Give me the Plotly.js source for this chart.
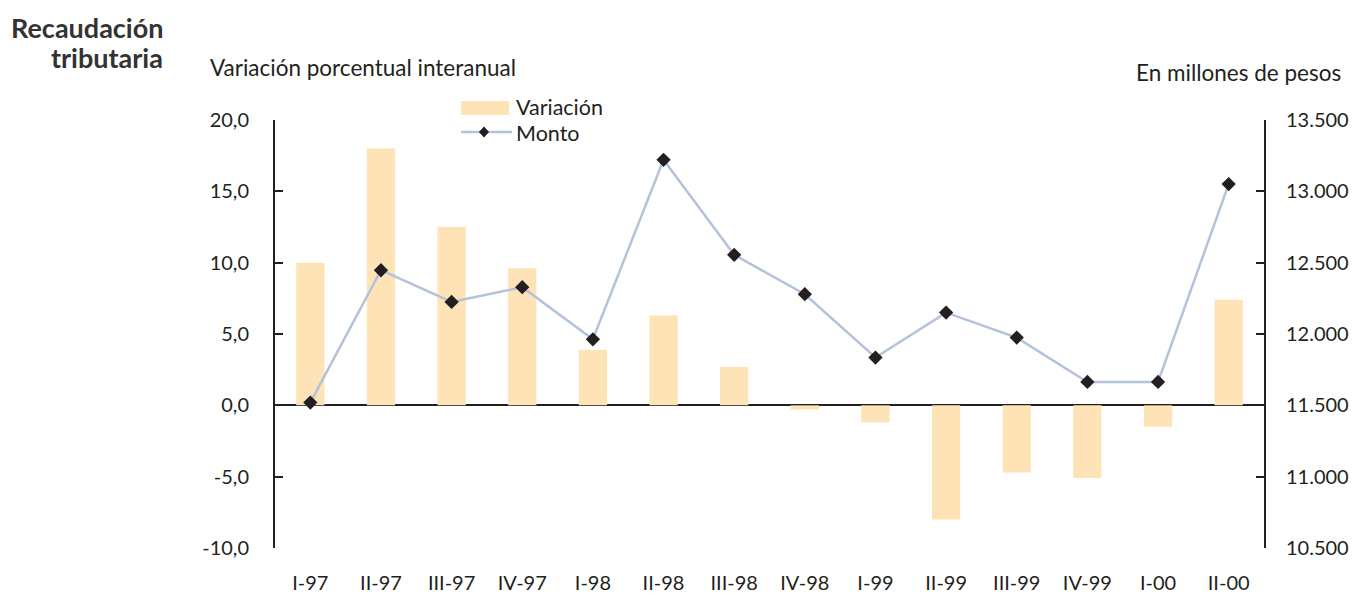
<!DOCTYPE html>
<html>
<head>
<meta charset="utf-8">
<script src="https://cdn.plot.ly/plotly-3.0.1.min.js"></script>
<style>
  html, body { margin: 0; padding: 0; background: #ffffff; }
  #chart { width: 1352px; height: 595px; }
</style>
</head>
<body>
<div id="chart"></div>
<script>
// Quarterly periods
const periods = ['I-97', 'II-97', 'III-97', 'IV-97', 'I-98', 'II-98', 'III-98', 'IV-98',
                 'I-99', 'II-99', 'III-99', 'IV-99', 'I-00', 'II-00'];

// Year-on-year percentage change (left axis)
const variacion = [10.0, 18.0, 12.5, 9.6, 3.9, 6.3, 2.7, -0.3, -1.2, -8.0, -4.7, -5.1, -1.5, 7.4];

// Amount collected, millions of pesos (right axis)
const monto = [11519, 12447, 12225, 12328, 11963, 13221, 12555, 12279, 11835, 12150, 11975, 11664, 11664, 13051];

// Axis ticks
const leftTicks = [-10, -5, 0, 5, 10, 15, 20];
const leftTickText = ['-10,0', '-5,0', '0,0', '5,0', '10,0', '15,0', '20,0'];
const rightTicks = [10500, 11000, 11500, 12000, 12500, 13000, 13500];
const rightTickText = ['10.500', '11.000', '11.500', '12.000', '12.500', '13.000', '13.500'];

const FONT = 'Lato, "Open Sans", sans-serif';
const INK = '#231f20';
const BAR = '#fee3b7';
const LINE = '#b3c3db';

const traces = [
  {
    type: 'bar',
    name: 'Variación',
    x: periods,
    y: variacion,
    marker: { color: BAR, line: { width: 0 } },
    yaxis: 'y'
  },
  {
    type: 'scatter',
    mode: 'lines+markers',
    name: 'Monto',
    x: periods,
    y: monto,
    yaxis: 'y2',
    line: { color: LINE, width: 2.5 },
    marker: { symbol: 'diamond', size: 11, color: INK, line: { width: 0 } }
  }
];

const axisFont = { family: FONT, size: 20, color: INK };

// Legend key drawn in paper coordinates above the plot
const legendShapes = [
  { type: 'rect', xref: 'paper', yref: 'paper', x0: 0.1881, x1: 0.2366, y0: 1.0117, y1: 1.0444,
    fillcolor: BAR, line: { width: 0 } },
  { type: 'line', xref: 'paper', yref: 'paper', x0: 0.1881, x1: 0.2396, y0: 0.972, y1: 0.972,
    line: { color: LINE, width: 2.5 } },
  { type: 'path', xref: 'paper', yref: 'paper',
    path: 'M 0.2113 0.9849 L 0.2164 0.972 L 0.2113 0.9591 L 0.2062 0.972 Z',
    fillcolor: INK, line: { width: 0 } }
];

const layout = {
  width: 1352,
  height: 595,
  margin: { l: 275, r: 88, t: 120, b: 47 },
  paper_bgcolor: '#ffffff',
  plot_bgcolor: '#ffffff',
  font: { family: FONT, size: 20, color: INK },
  bargap: 0.6,
  showlegend: false,
  xaxis: {
    type: 'category',
    range: [-0.5, 13.5],
    showgrid: false,
    showline: false,
    ticks: '',
    ticklabelstandoff: 21,
    tickfont: axisFont,
    fixedrange: true
  },
  yaxis: {
    range: [-10, 20],
    tickvals: leftTicks,
    ticktext: leftTickText,
    showgrid: false,
    zeroline: true,
    zerolinecolor: INK,
    zerolinewidth: 2,
    showline: true,
    linecolor: INK,
    linewidth: 2,
    ticks: 'inside',
    ticklen: 8,
    tickwidth: 2,
    tickcolor: INK,
    ticklabelstandoff: 20,
    tickfont: axisFont,
    fixedrange: true
  },
  yaxis2: {
    range: [10500, 13500],
    overlaying: 'y',
    side: 'right',
    tickvals: rightTicks,
    ticktext: rightTickText,
    showgrid: false,
    zeroline: false,
    showline: true,
    linecolor: INK,
    linewidth: 2,
    ticks: 'inside',
    ticklen: 8,
    tickwidth: 2,
    tickcolor: INK,
    ticklabelstandoff: 16,
    tickfont: axisFont,
    fixedrange: true
  },
  shapes: legendShapes,
  annotations: [
    {
      xref: 'paper', yref: 'paper', x: -0.111, y: 1.215,
      xanchor: 'right', yanchor: 'middle', align: 'right',
      text: '<b>Recaudación</b>',
      showarrow: false,
      font: { family: FONT, size: 27, color: '#333333' }
    },
    {
      xref: 'paper', yref: 'paper', x: -0.111, y: 1.145,
      xanchor: 'right', yanchor: 'middle', align: 'right',
      text: '<b>tributaria</b>',
      showarrow: false,
      font: { family: FONT, size: 27, color: '#333333' }
    },
    {
      xref: 'paper', yref: 'paper', x: -0.068, y: 1.122,
      xanchor: 'left', yanchor: 'middle',
      text: 'Variación porcentual interanual',
      showarrow: false,
      font: { family: FONT, size: 22.5, color: INK }
    },
    {
      xref: 'paper', yref: 'paper', x: 1.0796, y: 1.110,
      xanchor: 'right', yanchor: 'middle',
      text: 'En millones de pesos',
      showarrow: false,
      font: { family: FONT, size: 22.5, color: INK }
    },
    {
      xref: 'paper', yref: 'paper', x: 0.2417, y: 1.031,
      xanchor: 'left', yanchor: 'middle',
      text: 'Variación',
      showarrow: false,
      font: { family: FONT, size: 21.5, color: INK }
    },
    {
      xref: 'paper', yref: 'paper', x: 0.2417, y: 0.970,
      xanchor: 'left', yanchor: 'middle',
      text: 'Monto',
      showarrow: false,
      font: { family: FONT, size: 21.5, color: INK }
    }
  ]
};

Plotly.newPlot('chart', traces, layout, { staticPlot: true, displayModeBar: false });
</script>
</body>
</html>
